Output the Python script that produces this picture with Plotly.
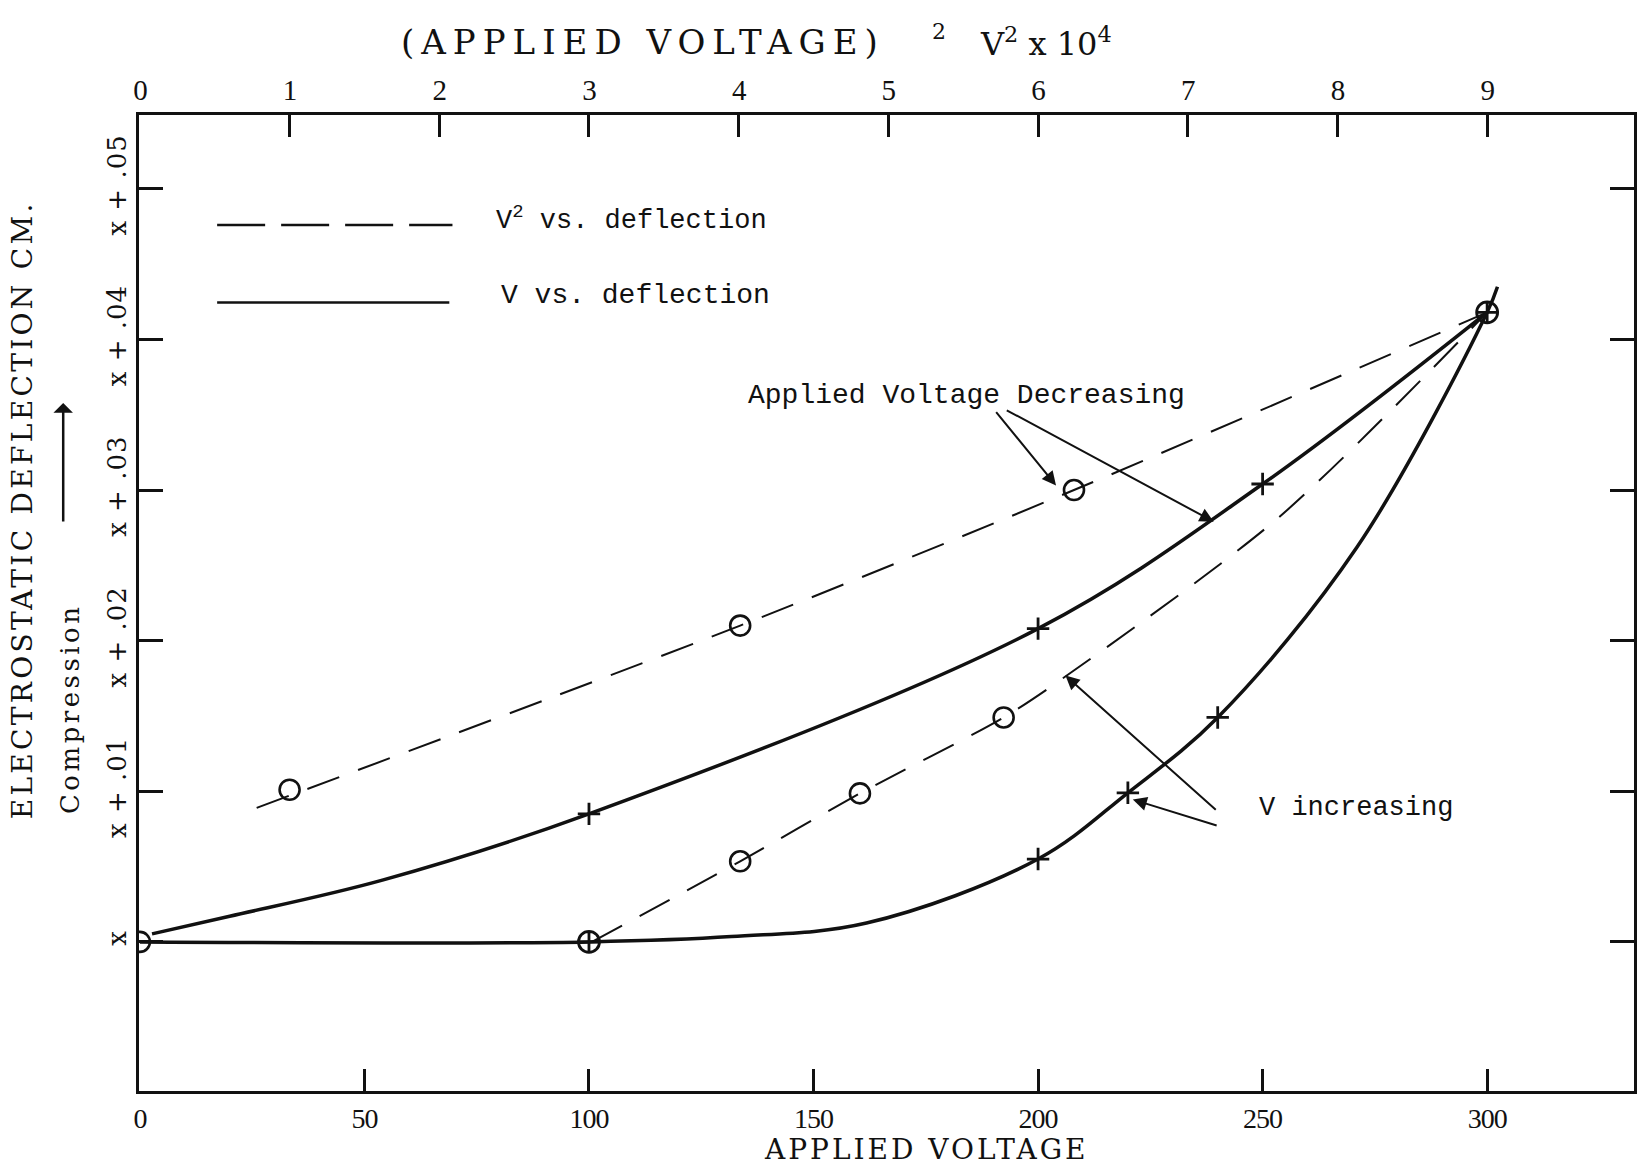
import plotly.graph_objects as go

# ---- V vs. deflection (solid curves), applied voltage in volts ----
# voltage decreasing
dec_v = [2.7, 20, 54, 100, 200, 250, 300]
dec_d = [0.00053, 0.0017, 0.0041, 0.0085, 0.0208, 0.0304, 0.0418]
dec_mark_v = [100, 200, 250]
dec_mark_d = [0.0085, 0.0208, 0.0304]

# voltage increasing
inc_v = [0, 100, 131.7, 161.8, 200, 220, 240, 271, 300, 302.3]
inc_d = [0, 0, 0.00035, 0.00125, 0.0055, 0.0099, 0.0149, 0.0262, 0.0418, 0.0435]
inc_mark_v = [200, 220, 240]
inc_mark_d = [0.0055, 0.0099, 0.0149]

# shared end points (circle with cross)
end_v = [100, 300]
end_d = [0, 0.0418]
origin_v = [0]
origin_d = [0]

# ---- V^2 vs. deflection (dashed curves), V^2 in units of 10^4 ----
sq_dec = [0.78, 4.01, 6.24, 9.0]
sq_dec_d = [0.0089, 0.0210, 0.0300, 0.0418]
sq_dec_mark = [1.0, 4.01, 6.24]
sq_dec_mark_d = [0.0101, 0.0210, 0.0300]

sq_inc = [3.02, 4.01, 4.81, 5.77, 6.18, 7.61, 9.0]
sq_inc_d = [0, 0.00535, 0.00986, 0.0149, 0.0176, 0.0282, 0.0418]
sq_inc_mark = [4.01, 4.81, 5.77]
sq_inc_mark_d = [0.00535, 0.00986, 0.0149]

# ---- axes ----
v_ticks = [0, 50, 100, 150, 200, 250, 300]
sq_ticks = [0, 1, 2, 3, 4, 5, 6, 7, 8, 9]
d_ticks = [0, 0.01, 0.02, 0.03, 0.04, 0.05]
d_labels = ["x", "x + .01", "x + .02", "x + .03", "x + .04", "x + .05"]

INK = "#111111"
SERIF = "DejaVu Serif"
LSERIF = "Liberation Serif"
MONO = "Liberation Mono"
DASH = "34px,20px"


def spaced(text, px):
    return f'<span style="letter-spacing:{px}px">{text}</span>'


fig = go.Figure()

# solid curves
fig.add_trace(go.Scatter(x=dec_v, y=dec_d, mode="lines",
                         line=dict(color=INK, width=3.5, shape="spline", smoothing=1)))
fig.add_trace(go.Scatter(x=inc_v, y=inc_d, mode="lines",
                         line=dict(color=INK, width=3.5, shape="spline", smoothing=1)))

# dashed curves on the V^2 axis
fig.add_trace(go.Scatter(x=sq_dec, y=sq_dec_d, mode="lines", xaxis="x2",
                         line=dict(color=INK, width=2, dash=DASH, shape="spline", smoothing=0.8)))
fig.add_trace(go.Scatter(x=sq_inc, y=sq_inc_d, mode="lines", xaxis="x2",
                         line=dict(color=INK, width=2, dash=DASH, shape="spline", smoothing=0.8)))

# markers
plus = dict(symbol="cross-thin-open", size=16, color=INK, line=dict(color=INK, width=2.8))
ring = dict(symbol="circle-open", size=20, color=INK, line=dict(color=INK, width=2.6))
ringx = dict(symbol="circle-cross-open", size=21, color=INK, line=dict(color=INK, width=2.8))

fig.add_trace(go.Scatter(x=dec_mark_v, y=dec_mark_d, mode="markers", marker=plus))
fig.add_trace(go.Scatter(x=inc_mark_v, y=inc_mark_d, mode="markers", marker=plus))
fig.add_trace(go.Scatter(x=sq_dec_mark, y=sq_dec_mark_d, mode="markers", xaxis="x2", marker=ring))
fig.add_trace(go.Scatter(x=sq_inc_mark, y=sq_inc_mark_d, mode="markers", xaxis="x2", marker=ring))
fig.add_trace(go.Scatter(x=end_v, y=end_d, mode="markers", marker=ringx))
fig.add_trace(go.Scatter(x=origin_v, y=origin_d, mode="markers", marker=ring, cliponaxis=True))

axis_common = dict(showgrid=False, zeroline=False, showline=True, linecolor=INK,
                   linewidth=3, ticks="inside", tickcolor=INK, tickwidth=2.5)

fig.update_layout(
    width=1640, height=1165,
    margin=dict(l=139, r=3, t=115, b=74),
    paper_bgcolor="white", plot_bgcolor="white",
    showlegend=False,
    xaxis=dict(range=[-0.2, 332.7], tickvals=v_ticks,
               ticktext=[spaced(v, -1) for v in v_ticks], ticklen=22,
               tickfont=dict(family=LSERIF, size=28, color=INK), **axis_common),
    xaxis2=dict(range=[-0.006, 9.981], tickvals=sq_ticks,
                ticktext=[spaced(v, -1) for v in sq_ticks], ticklen=22, overlaying="x",
                side="top", tickfont=dict(family=LSERIF, size=29, color=INK), **axis_common),
    yaxis=dict(range=[-0.0099, 0.0549], tickvals=d_ticks,
               ticktext=[spaced(t, 1) for t in d_labels], ticklen=24,
               mirror="ticks", tickangle=-90,
               tickfont=dict(family=SERIF, size=26, color=INK), **axis_common),
)

# legend samples
fig.add_shape(type="line", xref="x", yref="y", x0=17.2, x1=69.6, y0=0.0476, y1=0.0476,
              line=dict(color=INK, width=2.5, dash="48px,16px"))
fig.add_shape(type="line", xref="x", yref="y", x0=17.2, x1=68.9, y0=0.04245, y1=0.04245,
              line=dict(color=INK, width=2.5))

ann = []
# top axis title, in pieces
ann.append(dict(xref="paper", yref="paper", x=0.1742, y=1.0748, xanchor="left", yanchor="middle",
                text=spaced("(APPLIED VOLTAGE)", 7),
                font=dict(family=SERIF, size=34, color=INK), showarrow=False))
ann.append(dict(xref="paper", yref="paper", x=0.5354, y=1.086, xanchor="center", yanchor="middle",
                text="2", font=dict(family=SERIF, size=22, color=INK), showarrow=False))
ann.append(dict(xref="paper", yref="paper", x=0.5614, y=1.0748, xanchor="left", yanchor="middle",
                text="V<sup>2</sup> x 10<sup>4</sup>",
                font=dict(family=SERIF, size=32, color=INK), showarrow=False))
ann.append(dict(xref="paper", yref="paper", x=0.5267, y=-0.0600, xanchor="center", yanchor="middle",
                text=spaced("APPLIED VOLTAGE", 3), font=dict(family=SERIF, size=28, color=INK),
                showarrow=False))
ann.append(dict(xref="paper", yref="paper", x=-0.0774, y=0.5953, xanchor="center", yanchor="middle",
                text=spaced("ELECTROSTATIC DEFLECTION CM.", 3.3), textangle=-90,
                font=dict(family=SERIF, size=28, color=INK), showarrow=False))
ann.append(dict(xref="paper", yref="paper", x=-0.0461, y=0.3914, xanchor="center", yanchor="middle",
                text=spaced("Compression", 3.5), textangle=-90,
                font=dict(family=SERIF, size=26, color=INK), showarrow=False))
ann.append(dict(xref="paper", yref="paper", x=-0.0507, y=0.7049, ax=0, ay=120, text="",
                showarrow=True, arrowhead=1, arrowsize=1.3, arrowwidth=2.5, arrowcolor=INK))

ann.append(dict(xref="x", yref="y", x=78.9, y=0.0480, xanchor="left", yanchor="middle",
                text="V<sup>2</sup> vs. deflection", font=dict(family=MONO, size=27, color=INK),
                showarrow=False))
ann.append(dict(xref="x", yref="y", x=80, y=0.0429, xanchor="left", yanchor="middle",
                text="V vs. deflection", font=dict(family=MONO, size=28, color=INK),
                showarrow=False))

ann.append(dict(xref="x", yref="y", x=184, y=0.03627, xanchor="center", yanchor="middle",
                text="Applied Voltage Decreasing", font=dict(family=MONO, size=28, color=INK),
                showarrow=False))
ann.append(dict(xref="x", yref="y", x=270.9, y=0.00892, xanchor="center", yanchor="middle",
                text="V increasing", font=dict(family=MONO, size=27, color=INK),
                showarrow=False))

# pointer arrows (tail -> head, both in data units)
pointers = [
    (190.4, 0.03528, 204.0, 0.03030),
    (192.7, 0.03535, 239.1, 0.02790),
    (240.1, 0.00770, 221.1, 0.00945),
    (239.9, 0.00868, 206.1, 0.01768),
]
for tx, ty, hx, hy in pointers:
    ann.append(dict(xref="x", yref="y", axref="x", ayref="y", x=hx, y=hy, ax=tx, ay=ty,
                    text="", showarrow=True, arrowhead=2, arrowsize=1.4, arrowwidth=2,
                    arrowcolor=INK))

fig.update_layout(annotations=ann)

fig.write_html("out.html", config={"displayModeBar": False})
